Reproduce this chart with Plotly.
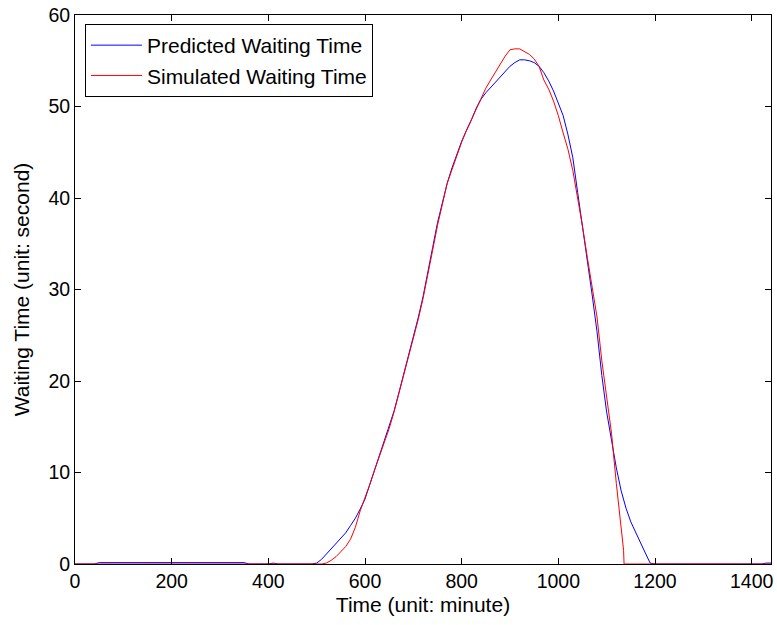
import plotly.graph_objects as go

# Predicted waiting time (blue)
pred_time = [0, 40, 50, 350, 360, 400, 410, 420, 490, 500, 510, 520, 530, 540, 550, 560, 570, 580, 590,
             600, 610, 620, 630, 640, 650, 660, 670, 680, 690, 700, 710, 720, 730, 740, 750, 760, 770,
             780, 790, 800, 810, 820, 830, 840, 850, 860, 870, 880, 890, 900, 910, 920, 930, 940, 950,
             960, 970, 980, 990, 1000, 1010, 1020, 1030, 1040, 1050, 1060, 1070, 1080, 1090, 1100, 1110,
             1120, 1130, 1140, 1150, 1160, 1170, 1180, 1190, 1200, 1420, 1430, 1440]
pred_wait = [0, 0, 0.15, 0.15, 0, 0, 0.1, 0, 0, 0.1, 0.5, 1.1, 1.7, 2.2, 2.8, 3.4, 4.2, 5.0, 6.0,
             7.1, 8.7, 10.3, 11.8, 13.3, 14.9, 16.7, 18.7, 20.7, 22.8, 24.8, 26.9, 29.2, 31.7, 34.6, 37.3, 39.6, 41.6,
             43.3, 44.8, 46.2, 47.4, 48.5, 49.8, 50.8, 51.5, 52.1, 52.7, 53.3, 53.9, 54.4, 54.8, 55.1, 55.1, 55.0, 54.8,
             54.4, 53.7, 52.8, 51.7, 50.3, 49.0, 46.9, 44.4, 40.6, 36.9, 33.5, 29.4, 25.4, 20.6, 16.6, 13.4,
             10.5, 8.0, 6.1, 4.6, 3.4, 2.3, 1.2, 0.1, 0, 0, 0.1, 0.1]

# Simulated waiting time (red)
sim_time = [0, 510, 520, 530, 540, 550, 560, 570, 580, 590, 600, 610, 620, 630, 640, 650, 660, 670, 680,
            690, 700, 710, 720, 730, 740, 750, 760, 770, 780, 790, 800, 810, 820, 830, 840, 850, 860, 870,
            880, 890, 900, 910, 920, 930, 940, 950, 960, 970, 980, 990, 1000, 1010, 1020, 1030, 1040, 1050,
            1060, 1070, 1080, 1090, 1100, 1110, 1120, 1125, 1130, 1135, 1136, 1440]
sim_wait = [0, 0, 0.1, 0.4, 0.8, 1.3, 1.9, 2.7, 4.0, 5.8, 7.2, 8.7, 10.3, 11.8, 13.3, 14.8, 16.6, 18.6, 20.6,
            22.7, 24.7, 26.7, 29.0, 31.5, 34.3, 37.0, 39.4, 41.6, 43.1, 44.7, 46.1, 47.4, 48.6, 49.7, 50.8, 52.0, 52.9, 53.8,
            54.6, 55.5, 56.2, 56.3, 56.3, 56.0, 55.7, 55.2, 54.4, 52.9, 51.9, 50.6, 49.0, 47.1, 45.3, 43.0, 40.1, 36.9,
            33.5, 30.3, 27.0, 22.2, 18.0, 14.3, 8.8, 6.5, 4.5, 1.5, 0, 0]

x_ticks = [0, 200, 400, 600, 800, 1000, 1200, 1400]
y_ticks = [0, 10, 20, 30, 40, 50, 60]

FONT = "Liberation Sans, Arial, sans-serif"

fig = go.Figure()
fig.add_trace(go.Scatter(x=pred_time, y=pred_wait, mode="lines", name="Predicted Waiting Time",
                         line=dict(color="#0000FF", width=1)))
fig.add_trace(go.Scatter(x=sim_time, y=sim_wait, mode="lines", name="Simulated Waiting Time",
                         line=dict(color="#FF0000", width=1)))

axis_common = dict(showgrid=False, zeroline=False, showline=True, linecolor="black", linewidth=1,
                   mirror="ticks", ticks="inside", ticklen=6, tickcolor="black",
                   tickfont=dict(family=FONT, size=19.5, color="black"))

fig.update_layout(
    width=777, height=625,
    margin=dict(l=75, r=4, t=14, b=61),
    paper_bgcolor="white", plot_bgcolor="white",
    font=dict(family=FONT, size=19.5, color="black"),
    xaxis=dict(range=[0, 1440], tickvals=x_ticks, ticktext=[str(v) for v in x_ticks],
               title=dict(text="Time (unit: minute)", font=dict(family=FONT, size=21), standoff=5),
               **axis_common),
    yaxis=dict(range=[0, 60], tickvals=y_ticks, ticktext=[str(v) for v in y_ticks],
               title=dict(text="Waiting Time (unit: second)", font=dict(family=FONT, size=21), standoff=13),
               **axis_common),
    legend=dict(x=0.0143, y=0.9836, xanchor="left", yanchor="top",
                bordercolor="black", borderwidth=1, bgcolor="white", itemwidth=51,
                font=dict(family=FONT, size=21, color="black"), tracegroupgap=0),
    showlegend=True,
)

fig.write_html("out.html")
